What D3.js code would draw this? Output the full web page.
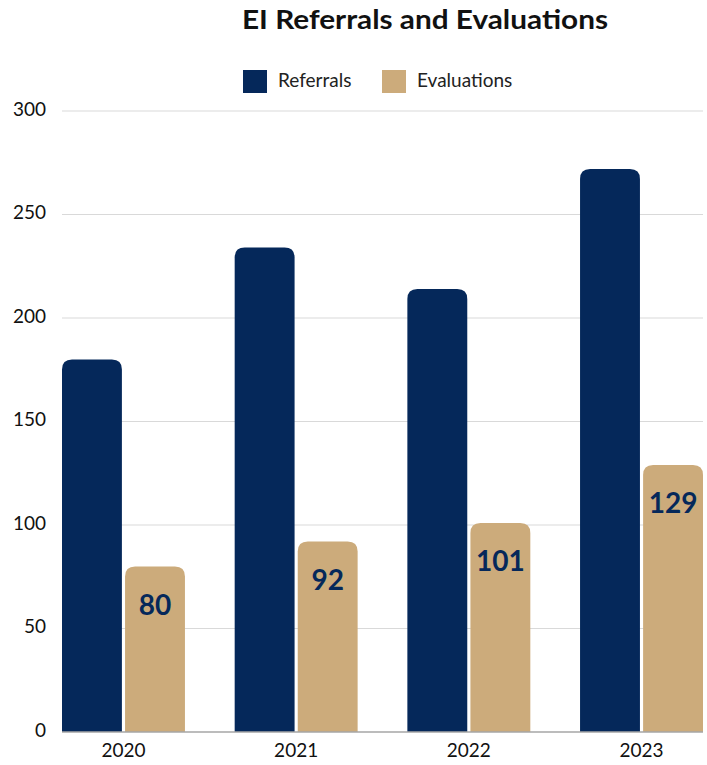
<!DOCTYPE html>
<html lang="en">
<head>
  <meta charset="UTF-8">
  <title>EI Referrals and Evaluations</title>
  <style>
    body {
      margin: 0;
      background: #fff;
      font-family: Lato, "Open Sans", Arial, sans-serif;
    }
    .grid line { stroke: #d9d9d9; stroke-width: 1px; }
    .tick-label { font-size: 19px; fill: #111; }
    .legend-label { font-size: 19px; fill: #222; }
  </style>
</head>
<body>
  <svg id="chart"></svg>
  <script src="https://d3js.org/d3.v7.min.js"></script>
  <script>
    // data
    const years = ["2020", "2021", "2022", "2023"];
    const referrals = [180, 234, 214, 272];
    const evaluations = [80, 92, 101, 129];
    const seriesNames = ["Referrals", "Evaluations"];
    const yTicks = [0, 50, 100, 150, 200, 250, 300];

    const colors = { Referrals: "#05285a", Evaluations: "#ccab7b" };

    const width = 707, height = 765;
    const margin = { top: 111, right: 4, bottom: 33, left: 62 };

    const svg = d3.select("#chart")
      .attr("width", width)
      .attr("height", height);

    const x = d3.scaleBand()
      .domain(years)
      .range([margin.left, width - margin.right])
      .paddingInner(0.288)
      .paddingOuter(0);

    const xSub = d3.scaleBand()
      .domain(seriesNames)
      .range([0, x.bandwidth()])
      .paddingInner(0.05);

    const y = d3.scaleLinear()
      .domain([0, 300])
      .range([height - margin.bottom, margin.top]);

    // title
    svg.append("text")
      .attr("x", 425)
      .attr("y", 29)
      .attr("text-anchor", "middle")
      .attr("font-size", "27px")
      .attr("font-weight", "bold")
      .attr("fill", "#111")
      .attr("textLength", 366)
      .attr("lengthAdjust", "spacingAndGlyphs")
      .text("EI Referrals and Evaluations");

    // legend
    const legendItems = [
      { name: "Referrals", x: 243 },
      { name: "Evaluations", x: 382 }
    ];
    const legend = svg.append("g");
    legendItems.forEach(item => {
      legend.append("rect")
        .attr("x", item.x)
        .attr("y", 70)
        .attr("width", 24)
        .attr("height", 23)
        .attr("fill", colors[item.name]);
      legend.append("text")
        .attr("class", "legend-label")
        .attr("x", item.x + 35)
        .attr("y", 82)
        .attr("dominant-baseline", "middle")
        .text(item.name);
    });

    // gridlines
    svg.append("g")
      .attr("class", "grid")
      .selectAll("line")
      .data(yTicks.filter(t => t > 0))
      .join("line")
        .attr("x1", margin.left)
        .attr("x2", width - margin.right)
        .attr("y1", d => y(d))
        .attr("y2", d => y(d));

    // y tick labels
    svg.append("g")
      .selectAll("text")
      .data(yTicks)
      .join("text")
        .attr("class", "tick-label")
        .attr("x", 46)
        .attr("y", d => y(d))
        .attr("text-anchor", "end")
        .attr("dominant-baseline", "middle")
        .text(d => d);

    // x tick labels
    svg.append("g")
      .selectAll("text")
      .data(years)
      .join("text")
        .attr("class", "tick-label")
        .attr("x", d => x(d) + x.bandwidth() / 2)
        .attr("y", height - margin.bottom + 20)
        .attr("text-anchor", "middle")
        .attr("dominant-baseline", "middle")
        .text(d => d);

    // bars with rounded tops
    function topRounded(x0, y0, w, h, r) {
      r = Math.min(r, w / 2, h);
      return `M${x0},${y0 + h}V${y0 + r}Q${x0},${y0} ${x0 + r},${y0}` +
        `H${x0 + w - r}Q${x0 + w},${y0} ${x0 + w},${y0 + r}V${y0 + h}Z`;
    }

    const rows = years.map((yr, i) => ({
      year: yr,
      values: [
        { key: "Referrals", value: referrals[i] },
        { key: "Evaluations", value: evaluations[i] }
      ]
    }));

    const groups = svg.append("g")
      .selectAll("g")
      .data(rows)
      .join("g")
        .attr("transform", d => `translate(${x(d.year)},0)`);

    groups.selectAll("path")
      .data(d => d.values)
      .join("path")
        .attr("fill", d => colors[d.key])
        .attr("d", d => topRounded(xSub(d.key), y(d.value), xSub.bandwidth(), y(0) - y(d.value), 10));

    // value labels on evaluations
    groups.selectAll("text.value")
      .data(d => d.values.filter(v => v.key === "Evaluations"))
      .join("text")
        .attr("class", "value")
        .attr("x", d => xSub(d.key) + xSub.bandwidth() / 2)
        .attr("y", d => y(d.value) + 41)
        .attr("text-anchor", "middle")
        .attr("dominant-baseline", "middle")
        .attr("font-size", "28px")
        .attr("font-weight", "bold")
        .attr("fill", colors.Referrals)
        .text(d => d.value);

    // baseline
    svg.append("line")
      .attr("x1", margin.left)
      .attr("x2", width - margin.right)
      .attr("y1", y(0))
      .attr("y2", y(0))
      .attr("stroke", "#a6a6a6")
      .attr("stroke-width", 1.5);
  </script>
</body>
</html>
